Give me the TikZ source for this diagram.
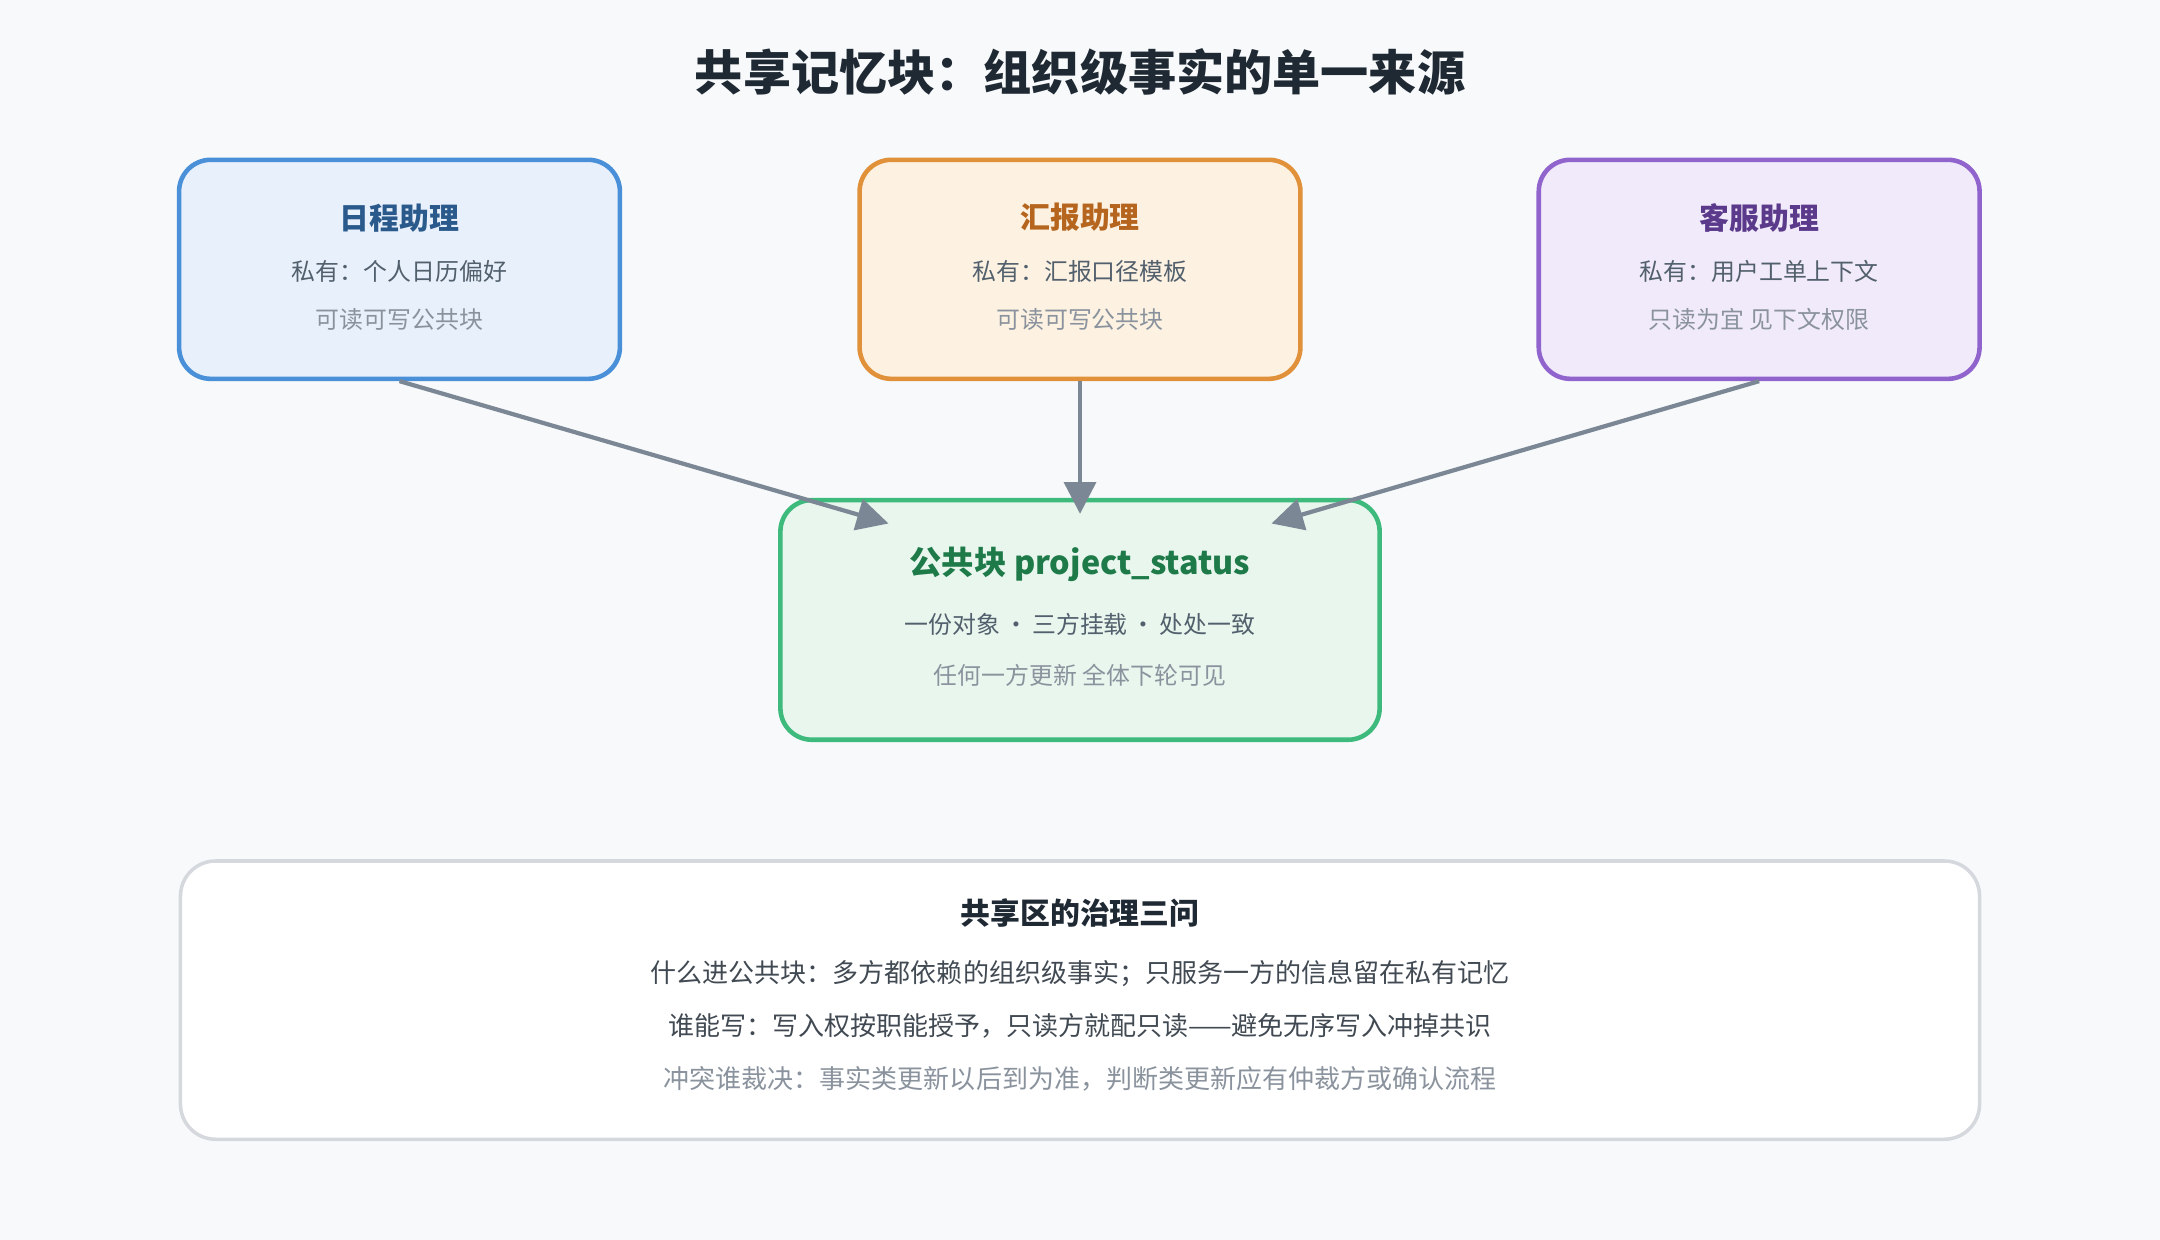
\documentclass[tikz,border=0pt]{standalone}
\usepackage{fontspec}
\setmainfont{Noto Sans CJK SC}
\usetikzlibrary{arrows.meta}
\definecolor{bg}{HTML}{F7F9FB}
\definecolor{arrowgray}{HTML}{7B8794}
\definecolor{txtdark}{HTML}{1F2933}
\definecolor{txtmid}{HTML}{52606D}
\definecolor{txtlight}{HTML}{8A939D}
\tikzset{
  agent/.style={draw, line width=1.3pt, rounded corners=9pt, minimum width=320*0.013776cm, minimum height=159*0.013776cm},
  ttl/.style={font=\bfseries\fontsize{8.5}{10}\selectfont},
  sub/.style={font=\fontsize{6.8}{8}\selectfont, text=txtmid},
  subl/.style={font=\fontsize{6.8}{8}\selectfont, text=txtlight},
  gline/.style={font=\fontsize{7.4}{9}\selectfont},
  link/.style={draw=arrowgray, line width=1.2pt, -{Triangle[length=9pt,width=9pt]}}
}
\begin{document}
\begin{tikzpicture}[x=0.013776cm, y=-0.013776cm]
    \fill[bg] (0,0) rectangle (1568,900);
    \useasboundingbox (0,0) rectangle (1568,900);
    %Title
    \node[font=\bfseries\fontsize{13.7}{16}\selectfont, text=txtdark] (title) at (784,52) {共享记忆块：组织级事实的单一来源};
    %Agents
    \node[agent, fill={rgb,255:red,232;green,240;blue,252}, draw={rgb,255:red,74;green,144;blue,217}] (sched) at (290,195.5) {};
    \node[ttl, text={rgb,255:red,42;green,90;blue,140}] (schedT) at (290,158) {日程助理};
    \node[sub] (schedA) at (290,197) {私有：个人日历偏好};
    \node[subl] (schedB) at (290,232) {可读可写公共块};
    \node[agent, fill={rgb,255:red,253;green,242;blue,226}, draw={rgb,255:red,224;green,145;blue,58}] (report) at (784,195.5) {};
    \node[ttl, text={rgb,255:red,181;green,101;blue,29}] (reportT) at (784,158) {汇报助理};
    \node[sub] (reportA) at (784,197) {私有：汇报口径模板};
    \node[subl] (reportB) at (784,232) {可读可写公共块};
    \node[agent, fill={rgb,255:red,241;green,234;blue,250}, draw={rgb,255:red,144;green,99;blue,205}] (service) at (1277,195.5) {};
    \node[ttl, text={rgb,255:red,91;green,58;blue,140}] (serviceT) at (1277,158) {客服助理};
    \node[sub] (serviceA) at (1277,197) {私有：用户工单上下文};
    \node[subl] (serviceB) at (1277,232) {只读为宜 见下文权限};
    %Public block
    \node[agent, minimum width=435*0.013776cm, minimum height=174*0.013776cm, fill={rgb,255:red,232;green,246;blue,238}, draw={rgb,255:red,61;green,186;blue,124}] (pub) at (784,450) {};
    \node[ttl, font=\bfseries\fontsize{9.2}{11}\selectfont, text={rgb,255:red,30;green,122;blue,72}] (pubT) at (784,410) {公共块 project\_status};
    \node[sub] (pubA) at (784,453) {一份对象\,·\,三方挂载\,·\,处处一致};
    \node[subl] (pubB) at (784,490) {任何一方更新 全体下轮可见};
    %Links
    \coordinate (inL) at (645,380);
    \coordinate (inM) at (784,373);
    \coordinate (inR) at (923,380);
    \draw[link] (sched.south) -- (inL);
    \draw[link] (report.south) -- (inM);
    \draw[link] (service.south) -- (inR);
    %Governance
    \node[draw={rgb,255:red,213;green,217;blue,222}, line width=1pt, fill=white, rounded corners=10pt, minimum width=1306*0.013776cm, minimum height=202*0.013776cm] (gov) at (784,726) {};
    \node[ttl, text=txtdark] (govT) at (784,663) {共享区的治理三问};
    \node[gline, text=txtdark!85] (gov1) at (784,707) {什么进公共块：多方都依赖的组织级事实；只服务一方的信息留在私有记忆};
    \node[gline, text=txtdark!85] (gov2) at (784,745) {谁能写：写入权按职能授予，只读方就配只读——避免无序写入冲掉共识};
    \node[gline, text=txtlight] (gov3) at (784,783) {冲突谁裁决：事实类更新以后到为准，判断类更新应有仲裁方或确认流程};
\end{tikzpicture}
\end{document}
